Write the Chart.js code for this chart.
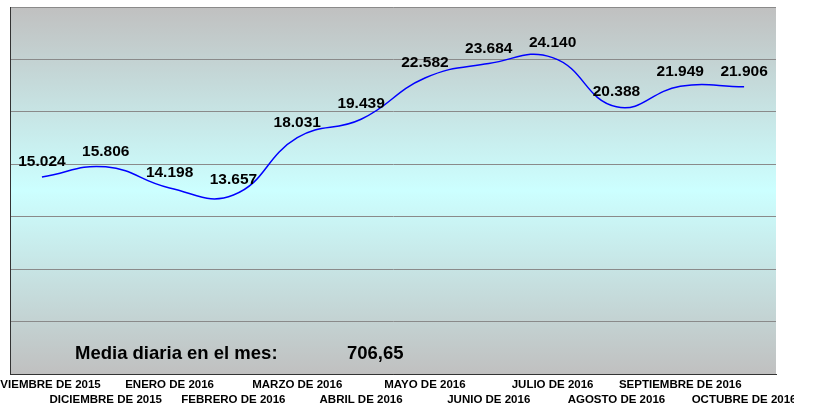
<!DOCTYPE html>
<html>
<head>
<meta charset="utf-8">
<script src="https://cdn.jsdelivr.net/npm/chart.js@4"></script>
<style>
  body { margin: 0; background: #fff; overflow: hidden; }
  #caja { width: 794px; height: 410px; }
</style>
</head>
<body>
<div id="caja"><canvas id="graficoMedia"></canvas></div>
<script>
// datos del grafico
const meses = [
  'NOVIEMBRE DE 2015', 'DICIEMBRE DE 2015', 'ENERO DE 2016', 'FEBRERO DE 2016',
  'MARZO DE 2016', 'ABRIL DE 2016', 'MAYO DE 2016', 'JUNIO DE 2016',
  'JULIO DE 2016', 'AGOSTO DE 2016', 'SEPTIEMBRE DE 2016', 'OCTUBRE DE 2016'
];
const valores = [15024, 15806, 14198, 13657, 18031, 19439, 22582, 23684, 24140, 20388, 21949, 21906];
const ejeMin = 0;
const ejeMax = 28000;
const ejePaso = 4000;
const textoMedia = 'Media diaria en el mes:';
const valorMedia = '706,65';

// etiquetas alternadas en dos filas
const etiquetas = meses.map((m, i) => i % 2 === 0 ? [m, ''] : ['', m]);

function formato(n) {
  return String(n).replace(/\B(?=(\d{3})+(?!\d))/g, '.');
}

// fondo degradado gris - celeste - gris
const fondo = {
  id: 'fondo',
  beforeDraw(chart) {
    const { ctx, chartArea: a } = chart;
    const g = ctx.createLinearGradient(0, a.top, 0, a.bottom);
    g.addColorStop(0, '#c0c0c0');
    g.addColorStop(0.5, '#ccffff');
    g.addColorStop(1, '#c0c0c0');
    ctx.save();
    ctx.fillStyle = g;
    ctx.fillRect(a.left, a.top, a.right - a.left, a.bottom - a.top);
    ctx.restore();
  }
};

// valores encima de cada punto y texto de la media
const rotulos = {
  id: 'rotulos',
  afterDatasetsDraw(chart) {
    const { ctx, chartArea: a } = chart;
    const meta = chart.getDatasetMeta(0);
    ctx.save();
    ctx.fillStyle = '#000';
    ctx.font = 'bold 15.5px "Liberation Sans", Arial, sans-serif';
    ctx.textAlign = 'center';
    ctx.textBaseline = 'middle';
    meta.data.forEach((p, i) => {
      ctx.fillText(formato(valores[i]), p.x, p.y - 15);
    });
    ctx.font = 'bold 18.5px "Liberation Sans", Arial, sans-serif';
    ctx.textAlign = 'left';
    ctx.fillText(textoMedia, a.left + 65, a.bottom - 20);
    ctx.fillText(valorMedia, a.left + 337, a.bottom - 20);
    ctx.restore();
  }
};

const grafico = new Chart(document.getElementById('graficoMedia'), {
  type: 'line',
  data: {
    labels: etiquetas,
    datasets: [{
      data: valores,
      borderColor: '#0000ff',
      borderWidth: 1.5,
      pointRadius: 0,
      tension: 0.45,
      fill: false
    }]
  },
  options: {
    responsive: true,
    maintainAspectRatio: false,
    animation: false,
    layout: { padding: { left: 10, top: 7, right: 18, bottom: 0 } },
    plugins: { legend: { display: false }, tooltip: { enabled: false } },
    scales: {
      x: {
        offset: true,
        grid: { display: false, drawTicks: false },
        border: { display: true, color: '#333333', width: 1 },
        afterFit(scale) {
          // las etiquetas de los extremos se cortan, como en el original
          scale.paddingLeft = 0;
          scale.paddingRight = 0;
        },
        ticks: {
          autoSkip: false,
          maxRotation: 0,
          minRotation: 0,
          padding: 3,
          color: '#000',
          font: { family: '"Liberation Sans", Arial, sans-serif', size: 11.5, weight: 'bold', lineHeight: '15px' }
        }
      },
      y: {
        min: ejeMin,
        max: ejeMax,
        grid: {
          drawTicks: false,
          color: (c) => c.tick && c.tick.value === ejeMin ? '#333333' : '#8a8a8a',
          lineWidth: 1
        },
        border: { display: true, color: '#333333', width: 1 },
        ticks: { display: false, stepSize: ejePaso }
      }
    }
  },
  plugins: [fondo, rotulos]
});
</script>
</body>
</html>
